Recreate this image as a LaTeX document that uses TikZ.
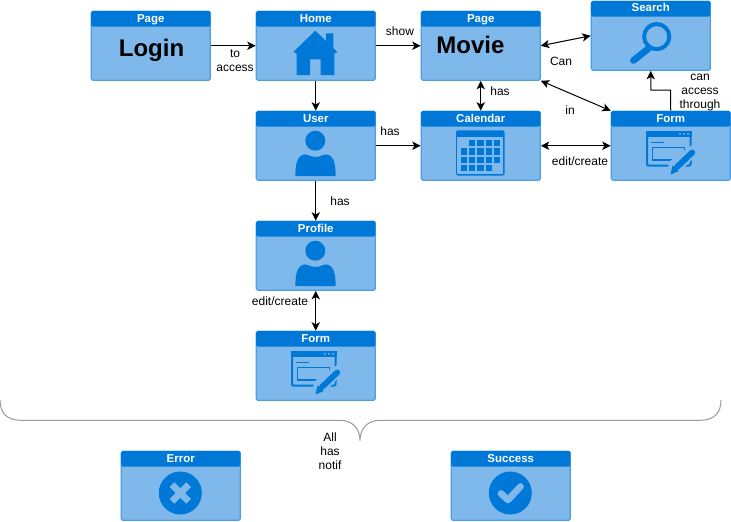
\documentclass[tikz,border=0pt]{standalone}
\usepackage{fontspec}
\setmainfont{Liberation Sans}
\usetikzlibrary{arrows.meta}
\definecolor{fillb}{HTML}{7FB9EC}
\definecolor{edgeb}{HTML}{4A9DE6}
\definecolor{headb}{HTML}{0078D7}
\definecolor{bracegray}{HTML}{999999}
\tikzset{
  x=0.75pt,y=-0.75pt,
  panelbody/.style={draw=edgeb,fill=fillb,line width=0.9pt,rounded corners=1.2pt,minimum width=89.25pt,minimum height=51.75pt,inner sep=0pt,outer sep=0.4pt},
  paneltitle/.style={text=white,font=\bfseries\fontsize{8.6}{10.5}\selectfont,inner sep=0pt,anchor=base},
  lab/.style={text=black,font=\fontsize{9}{10.5}\selectfont,inner sep=0pt,align=center},
  big/.style={text=black,font=\bfseries\fontsize{18}{20}\selectfont,inner sep=0pt,anchor=base},
  conn/.style={draw=black,line width=0.75pt,-{Stealth[length=6.4pt,width=6.2pt,inset=1.7pt]}},
  conb/.style={draw=black,line width=0.75pt,{Stealth[length=6.4pt,width=6.2pt,inset=1.7pt]}-{Stealth[length=6.4pt,width=6.2pt,inset=1.7pt]}},
}
\newcommand{\panel}[4]{% name, left, top, title
  \node[panelbody] (#1) at (#2+59.75,#3+34.75) {};
  \fill[headb,rounded corners=1pt] (#2+0.2,#3+15.5) -- (#2+0.2,#3+0.2) -- (#2+119.3,#3+0.2) -- (#2+119.3,#3+15.5) -- cycle;
  \node[paneltitle] (#1t) at (#2+59.75,#3+11) {#4};
}
\newcommand{\personicon}[1]{%
  \begin{scope}[yshift=#1*-0.75pt]
  \fill[headb] (315.3,140.7) circle (10);
  \fill[headb] (295.3,176) .. controls (295.5,168) and (296,160) .. (300,156.5)
    .. controls (303,154) and (306,154) .. (308,155)
    .. controls (312,157.5) and (319,157.5) .. (323,155)
    .. controls (325,154) and (328,154) .. (331,156.5)
    .. controls (335,160) and (335.5,168) .. (335.7,176) -- cycle;
  \end{scope}
}
\newcommand{\formicon}[2]{%
  \begin{scope}[xshift=#1*0.75pt,yshift=#2*-0.75pt]
  \draw[headb,line width=1.5pt,rounded corners=1pt] (647,132.3) rectangle (690.7,165.7);
  \fill[headb] (646,131.3) rectangle (691.7,137);
  \foreach \dx in {680,684,688} \fill[fillb] (\dx,133.8) circle (1);
  \draw[headb,line width=0.9pt] (650.7,142.3) -- (664,142.3);
  \draw[headb,line width=1.2pt] (652.4,147.4) rectangle (684.4,160.2);
  \fill[fillb] (665,176.5) -- (670,161) -- (692,145) -- (699,152) -- (680,172) -- cycle;
  \draw[headb,line width=4.4pt,line cap=round] (677,167) -- (692.2,152.5);
  \fill[headb] (670.5,174.5) -- (672.6,165.4) -- (678.8,171) -- cycle;
  \end{scope}
}
\begin{document}
\begin{tikzpicture}
\useasboundingbox (0,0) rectangle (731,521);
\panel{login}{91}{11}{Page}
\panel{home}{256}{11}{Home}
\panel{movie}{421}{11}{Page}
\panel{search}{591}{1}{Search}
\panel{user}{256}{111}{User}
\panel{cal}{421}{111}{Calendar}
\panel{formb}{611}{111}{Form}
\panel{profile}{256}{221}{Profile}
\panel{forma}{256}{331}{Form}
\panel{err}{121}{451}{Error}
\panel{succ}{451}{451}{Success}
\node[big] (logintxt) at (151.5,56.7) {Login};
\node[big] (movietxt) at (470.5,53.3) {Movie};
% house
\fill[headb] (315.3,30.7) -- (326,41) -- (326,33.3) -- (333.3,33.3) -- (333.3,48) -- (337.3,52) -- (334.3,53.5) -- (334.3,75) -- (320.7,75) -- (320.7,59.3) -- (310,59.3) -- (310,75) -- (296.7,75) -- (296.7,53.5) -- (293.3,52) -- cycle;
\personicon{0}
\personicon{110}
% magnifier
\draw[headb,line width=3pt] (656.7,36.6) circle (12.6);
\draw[headb,line width=5pt,line cap=round] (648.5,48.5) -- (633.5,60.5);
% calendar
\fill[headb,rounded corners=1.2pt] (456,130.3) rectangle (504.5,175.5);
\fill[fillb] (457.4,137) rectangle (503.1,174.1);
\foreach \cx/\cy in {469/140,477.3/140,485.7/140,494/140,
  460.7/148.3,469/148.3,477.3/148.3,485.7/148.3,494/148.3,
  460.7/156.7,469/156.7,477.3/156.7,485.7/156.7,494/156.7,
  460.7/164.5,469/164.5,477.3/164.5,485.7/164.5}
  \fill[headb] (\cx,\cy) rectangle ++(6.3,6.3);
\formicon{0}{0}
\formicon{-355}{220}
% notification icons
\fill[headb] (180.3,493) circle (21.5);
\draw[fillb,line width=5pt] (172,484.7) -- (188.6,501.3) (188.6,484.7) -- (172,501.3);
\fill[headb] (510.3,493) circle (21.5);
\draw[fillb,line width=5pt,line cap=round,line join=round] (501,493.5) -- (508,500) -- (520.5,486.5);
% connectors
\draw[conn] (login.east) -- (home.west);
\draw[conn] (home.east) -- (movie.west);
\draw[conn] (home.south) -- (user.north);
\draw[conn] (user.east) -- (cal.west);
\draw[conn] (user.south) -- (profile.north);
\draw[conb] (profile.south) -- (forma.north);
\draw[conb] (movie.south) -- (cal.north);
\draw[conb] (cal.east) -- (formb.west);
\draw[conb] (movie.east) -- (search.west);
\draw[conb] (movie.south east) -- (formb.north west);
\coordinate (formup) at (670.5,90);
\draw[conn] (formb.north) -- (formup) -| (search.south);
% labels
\node[lab] (l1) at (235,60.5) {to\\access};
\node[lab] (l2) at (400,31) {show};
\node[lab] (l3) at (561,61) {Can};
\node[lab] (l4) at (500,91) {has};
\node[lab] (l5) at (570,110) {in};
\node[lab] (l6) at (390,131) {has};
\node[lab] (l7) at (580,161) {edit/create};
\node[lab] (l8) at (700,93) {can\\access\\through};
\node[lab] (l9) at (340,201) {has};
\node[lab] (l10) at (280,301) {edit/create};
\node[lab] (l11) at (330,451) {All\\has\\notif};
% brace
\draw[bracegray,line width=0.75pt] (0,400) .. controls (0,413) and (7,420.3) .. (21,420.3) -- (340,420.3) .. controls (352,420.3) and (360,428) .. (360,440.7) .. controls (360,428) and (368,420.3) .. (380,420.3) -- (700,420.3) .. controls (714,420.3) and (721,413) .. (721,400);
\end{tikzpicture}
\end{document}
